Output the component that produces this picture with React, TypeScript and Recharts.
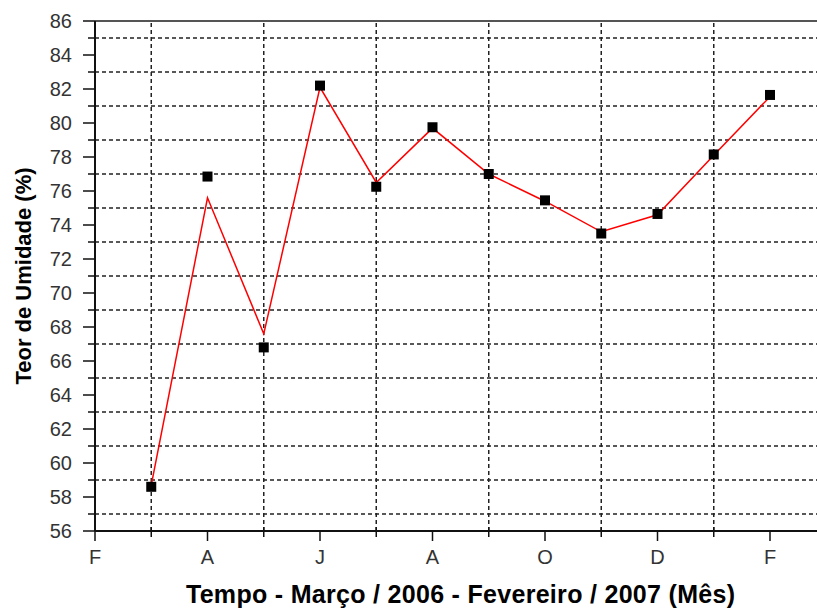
import React from 'react';
import { LineChart, Line, XAxis, YAxis, ReferenceLine } from 'recharts';

// Months from March 2006 to February 2007 (position on the month axis)
const monthPos = [1, 2, 3, 4, 5, 6, 7, 8, 9, 10, 11, 12];
const monthNames = ['Mar', 'Abr', 'Mai', 'Jun', 'Jul', 'Ago', 'Set', 'Out', 'Nov', 'Dez', 'Jan', 'Fev'];
// Measured moisture content (%)
const measured = [58.6, 76.85, 66.8, 82.2, 76.25, 79.75, 77.0, 75.45, 73.5, 74.65, 78.15, 81.65];
// Red fitted curve read at each month
const fitted = [58.7, 75.6, 67.6, 82.1, 76.5, 79.7, 77.0, 75.4, 73.6, 74.6, 78.1, 81.55];

const xTicks = [0, 1, 2, 3, 4, 5, 6, 7, 8, 9, 10, 11, 12, 13];
const xTickLabels = ['F', '', 'A', '', 'J', '', 'A', '', 'O', '', 'D', '', 'F', ''];
const yTicks = [56, 57, 58, 59, 60, 61, 62, 63, 64, 65, 66, 67, 68, 69, 70, 71, 72, 73, 74, 75, 76, 77, 78, 79, 80, 81, 82, 83, 84, 85, 86];
const yGridValues = [57, 59, 61, 63, 65, 67, 69, 71, 73, 75, 77, 79, 81, 83, 85];
const xGridValues = [1, 3, 5, 7, 9, 11];

const xTitle = 'Tempo - Março / 2006 - Fevereiro / 2007 (Mês)';
const yTitle = 'Teor de Umidade (%)';

const data = monthPos.map((m, i) => ({ m, name: monthNames[i], measured: measured[i], fitted: fitted[i] }));

const FONT = '"Liberation Sans", Arial, Helvetica, sans-serif';

const XTick = (props: any) => {
  const { x, y, payload } = props;
  const v = payload.value as number;
  const idx = xTicks.indexOf(v);
  if (v % 2 === 0) {
    return (
      <g>
        <line x1={x} y1={y} x2={x} y2={y + 10} stroke="#111" strokeWidth={1.5} />
        <text x={x} y={y + 19} dy="0.71em" textAnchor="middle" fontFamily={FONT} fontSize={20} fill="#333">
          {xTickLabels[idx]}
        </text>
      </g>
    );
  }
  return <line x1={x} y1={y - 4} x2={x} y2={y + 6} stroke="#111" strokeWidth={1.5} />;
};

const YTick = (props: any) => {
  const { x, y, payload } = props;
  const v = payload.value as number;
  if (v % 2 === 0) {
    return (
      <g>
        <line x1={x - 12} y1={y} x2={x} y2={y} stroke="#111" strokeWidth={1.5} />
        <text x={x - 23} y={y} dy="0.36em" textAnchor="end" fontFamily={FONT} fontSize={20} fill="#333">
          {v}
        </text>
      </g>
    );
  }
  return <line x1={x - 7} y1={y} x2={x} y2={y} stroke="#111" strokeWidth={1.5} />;
};

const Square = (props: any) => {
  const { cx, cy, index } = props;
  if (cx == null || cy == null) return <g key={index} />;
  return <rect key={index} x={cx - 5} y={cy - 5} width={10} height={10} fill="#000" />;
};

export default function App() {
  return (
    <div style={{ position: 'absolute', left: 0, top: 0, width: 817, height: 608, overflow: 'hidden', background: '#fff' }}>
      <LineChart width={840} height={608} data={data} margin={{ top: 21, right: 13.75, bottom: 0, left: 0 }}>
        <XAxis
          type="number"
          dataKey="m"
          domain={[0, 13]}
          ticks={xTicks}
          interval={0}
          tickSize={0}
          tickMargin={0}
          tickLine={false}
          axisLine={{ stroke: '#111', strokeWidth: 2 }}
          tick={XTick}
          height={77}
          allowDataOverflow
          label={{
            value: xTitle,
            position: 'insideBottom',
            offset: 5,
            style: { fontFamily: FONT, fontSize: 25, fontWeight: 'bold', fill: '#000', letterSpacing: 0.3 },
          }}
        />
        <YAxis
          type="number"
          domain={[56, 86]}
          ticks={yTicks}
          interval={0}
          tickSize={0}
          tickMargin={0}
          tickLine={false}
          axisLine={{ stroke: '#111', strokeWidth: 2 }}
          tick={YTick}
          width={95}
          allowDataOverflow
          label={{
            value: yTitle,
            angle: -90,
            position: 'center',
            dx: -24,
            style: { fontFamily: FONT, fontSize: 22, fontWeight: 'bold', fill: '#000' },
          }}
        />
        {yGridValues.map((v) => (
          <ReferenceLine key={'h' + v} y={v} stroke="#222" strokeWidth={1.5} strokeDasharray="4 3" />
        ))}
        {xGridValues.map((v) => (
          <ReferenceLine key={'v' + v} x={v} stroke="#222" strokeWidth={1.5} strokeDasharray="4 3" />
        ))}
        <ReferenceLine y={86} stroke="#555" strokeWidth={2} />
        <Line
          dataKey="fitted"
          type="linear"
          stroke="#ff0000"
          strokeWidth={1.5}
          dot={false}
          activeDot={false}
          isAnimationActive={false}
        />
        <Line
          dataKey="measured"
          stroke="none"
          dot={Square}
          activeDot={false}
          isAnimationActive={false}
        />
      </LineChart>
    </div>
  );
}
